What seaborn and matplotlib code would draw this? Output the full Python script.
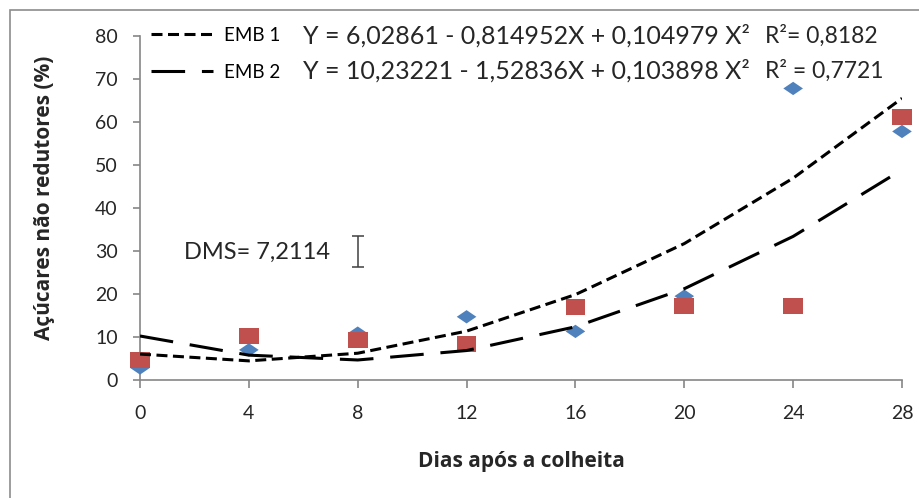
import numpy as np
import pandas as pd
import matplotlib
matplotlib.use("Agg")
import matplotlib.pyplot as plt
import seaborn as sns
from matplotlib.patches import Rectangle
from matplotlib.path import Path

# ---------------- data ----------------
days = [0, 4, 8, 12, 16, 20, 24, 28]
emb1 = [2.8, 7.0, 10.9, 14.7, 11.3, 19.5, 67.8, 57.8]
emb2 = [4.6, 10.2, 9.3, 8.3, 17.0, 17.2, 17.2, 61.2]
series = ["EMB 1", "EMB 2"]
coef1 = [6.02861, -0.814952, 0.104979]     # a + bX + cX^2 (as printed)
coef2 = [10.23221, -1.52836, 0.103898]
eq_text = ["Y = 6,02861 - 0,814952X + 0,104979 X\u00b2",
           "Y = 10,23221 - 1,52836X + 0,103898 X\u00b2"]
r2_text = ["R\u00b2= 0,8182", "R\u00b2 = 0,7721"]
dms = 7.2114
dms_label = "DMS= 7,2114"
yticks = [0, 10, 20, 30, 40, 50, 60, 70, 80]
xlabel = "Dias após a colheita"
ylabel = "Açúcares não redutores (%)"

pts = pd.DataFrame({
    "dia": days * 2,
    "valor": emb1 + emb2,
    "serie": [series[0]] * len(days) + [series[1]] * len(days),
})
trend = pd.DataFrame({
    "dia": days * 2,
    "valor": list(np.polyval(coef1[::-1], days)) + list(np.polyval(coef2[::-1], days)),
    "serie": [series[0]] * len(days) + [series[1]] * len(days),
})

# ---------------- style ----------------
sns.set_theme(style="white")
plt.rcParams["font.family"] = ["Lato", "DejaVu Sans"]
gray = "#868686"

fig = plt.figure(figsize=(9.19, 4.98), dpi=100)
ax = fig.add_axes([140 / 919, 118 / 498, 762 / 919, 344 / 498])

diamond = Path([(-1, 0), (0, -0.68), (1, 0), (0, 0.68), (-1, 0)],
               [Path.MOVETO, Path.LINETO, Path.LINETO, Path.LINETO, Path.CLOSEPOLY])
square = Path([(-1, -0.8), (1, -0.8), (1, 0.8), (-1, 0.8), (-1, -0.8)],
              [Path.MOVETO, Path.LINETO, Path.LINETO, Path.LINETO, Path.CLOSEPOLY])

sns.scatterplot(data=pts, x="dia", y="valor", hue="serie", style="serie",
                markers={series[0]: diamond, series[1]: square},
                palette={series[0]: "#4F81BD", series[1]: "#C0504D"},
                s=200, linewidth=0, legend=False, ax=ax,
                clip_on=False, zorder=3)

sns.lineplot(data=trend, x="dia", y="valor", style="serie",
             dashes={series[0]: (3.6, 1.8), series[1]: (11, 5.5)},
             color="black", linewidth=2.2, legend=True, ax=ax, zorder=4)

# legend
handles, labels = ax.get_legend_handles_labels()
hl = [(h, l) for h, l in zip(handles, labels) if l in series]
leg = ax.legend([h for h, _ in hl], [l for _, l in hl],
                loc="upper left", bbox_to_anchor=(151 / 919, 1 - 27 / 498),
                bbox_transform=fig.transFigure, frameon=False,
                fontsize=13.5, handlelength=3.3, handletextpad=0.6,
                labelspacing=1.05, borderpad=0, borderaxespad=0)
for t in leg.get_texts():
    t.set_color("black")

# equations
for i, yy in enumerate([36, 71]):
    fig.text(303 / 919, 1 - yy / 498, eq_text[i], fontsize=18, va="center", ha="left")
    fig.text(765 / 919, 1 - yy / 498, r2_text[i], fontsize=16.5, va="center", ha="left")

# DMS bar
ax.errorbar([8], [29.8], yerr=[dms / 2], fmt="none", ecolor="#404040",
            elinewidth=1.1, capsize=4.5, capthick=1.1, clip_on=False)
ax.text(1.6, 29.8, dms_label, fontsize=17, va="center", ha="left")

# axes styling
ax.set_xlim(0, 28)
ax.set_ylim(0, 80)
ax.set_xticks(days)
ax.set_yticks(yticks)
ax.set_xlabel("")
ax.set_ylabel("")
for s in ["top", "right"]:
    ax.spines[s].set_visible(False)
for s in ["left", "bottom"]:
    ax.spines[s].set_color(gray)
    ax.spines[s].set_linewidth(1.2)
ax.tick_params(axis="y", direction="out", length=5, width=1.2, color=gray,
               labelsize=14, pad=11, left=True)
ax.tick_params(axis="x", direction="out", length=6, width=1.2, color=gray,
               labelsize=14, pad=12, bottom=True)
ax.grid(False)

fig.text(521 / 919, 1 - 461 / 498, xlabel, fontsize=15, fontweight="bold",
         family=["Open Sans", "DejaVu Sans"], ha="center", va="center")
fig.text(45 / 919, 1 - 198 / 498, ylabel, fontsize=15, fontweight="bold",
         family=["Open Sans", "DejaVu Sans"], ha="center", va="center", rotation=90)

# outer frame
fig.add_artist(Rectangle((9.5 / 919, -0.1), 1.2, 1.1 - 10.5 / 498,
                         transform=fig.transFigure, fill=False,
                         edgecolor="#8c8c8c", linewidth=1.2))

fig.savefig("out.png", dpi=100)
